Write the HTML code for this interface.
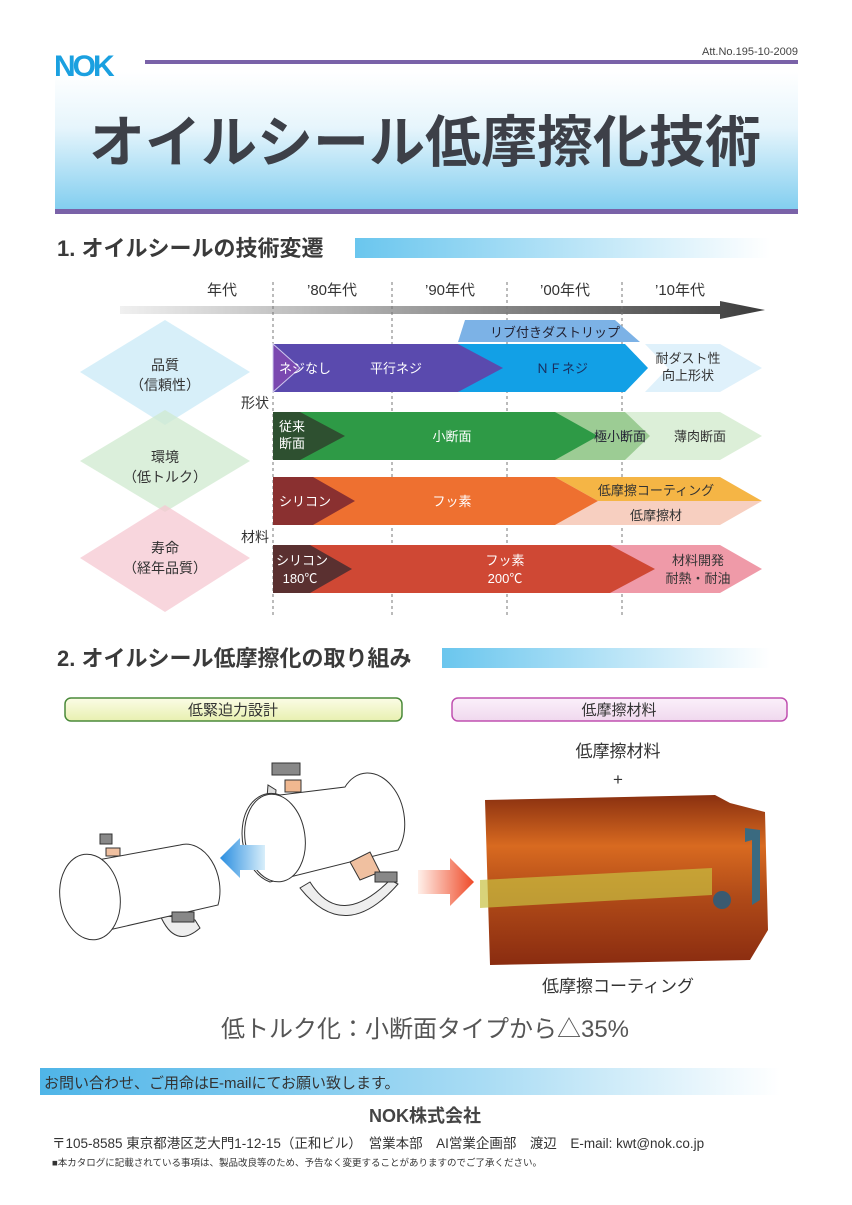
<!DOCTYPE html>
<html><head><meta charset="utf-8"><style>
body{margin:0;background:#fff}
svg text{font-family:"Liberation Sans","Noto Sans CJK JP",sans-serif}
</style></head><body>
<svg width="852" height="1200" viewBox="0 0 852 1200" xmlns="http://www.w3.org/2000/svg">
<defs>
<linearGradient id="ban" x1="0" y1="0" x2="0" y2="1"><stop offset="0" stop-color="#ffffff"/><stop offset="0.4" stop-color="#e6f5fc"/><stop offset="1" stop-color="#7fcdef"/></linearGradient>
<linearGradient id="hbar" x1="0" y1="0" x2="1" y2="0"><stop offset="0" stop-color="#6ac6ee"/><stop offset="1" stop-color="#ffffff"/></linearGradient>
<linearGradient id="tl" x1="0" y1="0" x2="1" y2="0"><stop offset="0" stop-color="#f0f0f0"/><stop offset="1" stop-color="#3c3c3c"/></linearGradient>
<linearGradient id="pg" x1="0" y1="0" x2="0" y2="1"><stop offset="0" stop-color="#fbfce6"/><stop offset="1" stop-color="#e8f0b0"/></linearGradient>
<linearGradient id="pp" x1="0" y1="0" x2="0" y2="1"><stop offset="0" stop-color="#fbf0fa"/><stop offset="1" stop-color="#f0d8ee"/></linearGradient>
<linearGradient id="ft" x1="0" y1="0" x2="1" y2="0"><stop offset="0" stop-color="#4fb5e8"/><stop offset="0.6" stop-color="#a9dcf4"/><stop offset="1" stop-color="#ffffff"/></linearGradient>
<linearGradient id="org" x1="0" y1="0" x2="0" y2="1"><stop offset="0" stop-color="#8a3010"/><stop offset="0.3" stop-color="#d86a20"/><stop offset="0.6" stop-color="#b04a18"/><stop offset="1" stop-color="#8a2c10"/></linearGradient>
<linearGradient id="redar" x1="0" y1="0" x2="1" y2="0"><stop offset="0" stop-color="#fff0ea"/><stop offset="1" stop-color="#ef4a28"/></linearGradient>
<linearGradient id="bluar" x1="1" y1="0" x2="0" y2="0"><stop offset="0" stop-color="#d8eefa"/><stop offset="1" stop-color="#2a8ee0"/></linearGradient>
</defs>

<!-- header -->
<rect x="145" y="60" width="653" height="4" fill="#7a62a8"/>
<text x="798" y="55" font-size="11" fill="#444" text-anchor="end" font-family="Liberation Serif,serif">Att.No.195-10-2009</text>
<rect x="55" y="72" width="743" height="140" fill="url(#ban)"/>
<rect x="55" y="209" width="743" height="5" fill="#7a62a8"/>
<text x="54" y="76" font-size="30" font-weight="bold" fill="#1aa0e0" letter-spacing="-3">NOK</text>
<text x="425" y="162" font-size="56" font-weight="bold" fill="#3d4048" text-anchor="middle">オイルシール低摩擦化技術</text>

<!-- section1 -->
<text x="57" y="256" font-size="22" font-weight="bold" fill="#3a3a3a">1. オイルシールの技術変遷</text>
<rect x="355" y="238" width="415" height="20" fill="url(#hbar)"/>

<g font-size="15" fill="#333" text-anchor="middle">
<text x="222" y="295">年代</text><text x="332" y="295">’80年代</text><text x="450" y="295">’90年代</text><text x="565" y="295">’00年代</text><text x="680" y="295">’10年代</text>
</g>
<polygon points="120,306 720,306 720,301 765,310 720,319 720,314 120,314" fill="url(#tl)"/>
<g stroke="#777" stroke-dasharray="3,3" stroke-width="1">
<line x1="273" y1="282" x2="273" y2="615"/><line x1="392" y1="282" x2="392" y2="615"/><line x1="507" y1="282" x2="507" y2="615"/><line x1="622" y1="282" x2="622" y2="615"/>
</g>

<!-- diamonds -->
<polygon points="165,320 250,372 165,425 80,372" fill="#c9e9f7" opacity="0.75"/>
<polygon points="165,410 250,461 165,512 80,461" fill="#cfe9cf" opacity="0.75"/>
<polygon points="165,505 250,558 165,612 80,558" fill="#f6c8d2" opacity="0.75"/>
<g font-size="14" fill="#333" text-anchor="middle">
<text x="165" y="370">品質</text><text x="165" y="390">（信頼性）</text>
<text x="165" y="462">環境</text><text x="165" y="482">（低トルク）</text>
<text x="165" y="553">寿命</text><text x="165" y="573">（経年品質）</text>
<text x="255" y="408">形状</text><text x="255" y="542">材料</text>
</g>

<!-- rib -->
<polygon points="465,320 615,320 640,342 458,342" fill="#7cb2e6"/>
<text x="555" y="337" font-size="13" fill="#223" text-anchor="middle">リブ付きダストリップ</text>
<!-- row1 -->
<polygon points="645,344 720,344 762,368 720,392 645,392 668,368" fill="#dff1fb"/>
<polygon points="458,344 625,344 648,368 625,392 458,392 480,368" fill="#12a0e6"/>
<polygon points="273,344 458,344 503,368 458,392 273,392" fill="#5a4aae"/>
<polygon points="273,344 273,392 300,368" fill="#7a48b0" stroke="#cfc8ee" stroke-width="1"/>
<g font-size="13" text-anchor="middle">
<text x="305" y="373" fill="#fff">ネジなし</text><text x="396" y="373" fill="#fff">平行ネジ</text>
<text x="562" y="373" fill="#1a3060">ＮＦネジ</text>
<text x="688" y="363" fill="#333">耐ダスト性</text><text x="688" y="380" fill="#333">向上形状</text>
</g>
<!-- row2 -->
<polygon points="625,412 720,412 762,436 720,460 625,460 648,436" fill="#dcefd8"/>
<polygon points="555,412 625,412 650,436 625,460 555,460 578,436" fill="#9ccc94"/>
<polygon points="300,412 555,412 598,436 555,460 300,460" fill="#2e9a46"/>
<polygon points="273,412 300,412 345,436 300,460 273,460" fill="#2e5030"/>
<g font-size="13" text-anchor="middle" fill="#fff">
<text x="292" y="431">従来</text><text x="292" y="448">断面</text>
<text x="452" y="441">小断面</text>
<text x="620" y="441" fill="#223">極小断面</text><text x="700" y="441" fill="#333">薄肉断面</text>
</g>
<!-- row3 -->
<polygon points="555,477 720,477 762,501 598,501" fill="#f5b545"/>
<polygon points="598,501 762,501 720,525 555,525" fill="#f7cfc0"/>
<polygon points="305,477 555,477 598,501 555,525 305,525" fill="#ee7030"/>
<polygon points="273,477 313,477 355,501 313,525 273,525" fill="#8a3030"/>
<g font-size="13" text-anchor="middle">
<text x="305" y="506" fill="#fff">シリコン</text><text x="452" y="506" fill="#fff">フッ素</text>
<text x="656" y="495" fill="#333">低摩擦コーティング</text><text x="656" y="520" fill="#333">低摩擦材</text>
</g>
<!-- row4 -->
<polygon points="610,545 720,545 762,569 720,593 610,593 633,569" fill="#ef9aa8"/>
<polygon points="310,545 610,545 655,569 610,593 310,593" fill="#cf4834"/>
<polygon points="273,545 310,545 352,569 310,593 273,593" fill="#5a3030"/>
<g font-size="13" text-anchor="middle" fill="#fff">
<text x="302" y="565">シリコン</text><text x="300" y="583">180℃</text>
<text x="505" y="565">フッ素</text><text x="505" y="583">200℃</text>
<text x="698" y="565" fill="#333">材料開発</text><text x="698" y="583" fill="#333">耐熱・耐油</text>
</g>

<!-- section2 -->
<text x="57" y="666" font-size="22" font-weight="bold" fill="#3a3a3a">2. オイルシール低摩擦化の取り組み</text>
<rect x="442" y="648" width="328" height="20" fill="url(#hbar)"/>
<rect x="65" y="698" width="337" height="23" rx="6" fill="url(#pg)" stroke="#4a8a3a" stroke-width="1.5"/>
<text x="233" y="715" font-size="15" fill="#333" text-anchor="middle">低緊迫力設計</text>
<rect x="452" y="698" width="335" height="23" rx="6" fill="url(#pp)" stroke="#c050b0" stroke-width="1.5"/>
<text x="619" y="715" font-size="15" fill="#333" text-anchor="middle">低摩擦材料</text>

<!-- left illustration -->
<g stroke="#333" stroke-width="1" fill="#fff">
<path d="M310,882 Q340,930 390,880 L398,884 Q345,945 300,888 Z" fill="#eee"/>
<path d="M268,785 L262,860 L270,860 L276,790 Z" fill="#ddd"/>
<rect x="272" y="763" width="28" height="12" fill="#888"/>
<path d="M280,795 L345,787 A30,42 -10 0 1 398,850 L270,882 A30,42 -10 0 1 280,795 Z"/>
<ellipse cx="275" cy="838" rx="30" ry="44" transform="rotate(-8 275 838)"/>
<rect x="285" y="780" width="16" height="12" fill="#f0b890"/>
<path d="M350,862 L370,852 L380,872 L360,880Z" fill="#f0c0a0"/>
<rect x="375" y="872" width="22" height="10" fill="#888"/>
<path d="M160,915 Q175,950 200,928 L195,920 Z" fill="#eee"/>
<path d="M70,865 L180,845 A30,42 -10 0 1 218,905 L100,932 A30,42 -10 0 1 70,865 Z"/>
<ellipse cx="90" cy="897" rx="30" ry="43" transform="rotate(-8 90 897)"/>
<rect x="100" y="834" width="12" height="10" fill="#888"/>
<rect x="106" y="848" width="14" height="8" fill="#f0c0a0"/>
<rect x="172" y="912" width="22" height="10" fill="#888"/>
</g>
<polygon points="265,845 240,845 240,838 220,858 240,878 240,870 265,870" fill="url(#bluar)"/>
<polygon points="418,870 450,870 450,858 474,882 450,906 450,894 418,894" fill="url(#redar)"/>

<!-- right illustration -->
<text x="618" y="757" font-size="17" fill="#333" text-anchor="middle">低摩擦材料</text>
<text x="618" y="785" font-size="17" fill="#333" text-anchor="middle">+</text>
<path d="M485,800 L715,795 L730,803 L765,812 L768,930 L750,960 L490,965 Z" fill="url(#org)"/>
<path d="M745,828 L760,830 L760,900 L752,905 L752,840 L745,842Z" fill="#3a6a80"/>
<circle cx="722" cy="900" r="9" fill="#3a5a70"/>
<polygon points="480,880 712,868 712,895 480,908" fill="#c8c040" opacity="0.7"/>
<text x="618" y="992" font-size="17" fill="#333" text-anchor="middle">低摩擦コーティング</text>
<text x="425" y="1037" font-size="24" fill="#555" text-anchor="middle">低トルク化：小断面タイプから△35%</text>

<!-- footer -->
<rect x="40" y="1068" width="740" height="27" fill="url(#ft)"/>
<text x="44" y="1088" font-size="15" fill="#333">お問い合わせ、ご用命はE-mailにてお願い致します。</text>
<text x="425" y="1122" font-size="18" font-weight="bold" fill="#444" text-anchor="middle">NOK株式会社</text>
<text x="52" y="1148" font-size="13.5" fill="#333">〒105-8585 東京都港区芝大門1-12-15（正和ビル）　営業本部　AI営業企画部　渡辺　E-mail: kwt@nok.co.jp</text>
<text x="52" y="1166" font-size="9.5" fill="#333">■本カタログに記載されている事項は、製品改良等のため、予告なく変更することがありますのでご了承ください。</text>
</svg>
</body></html>
